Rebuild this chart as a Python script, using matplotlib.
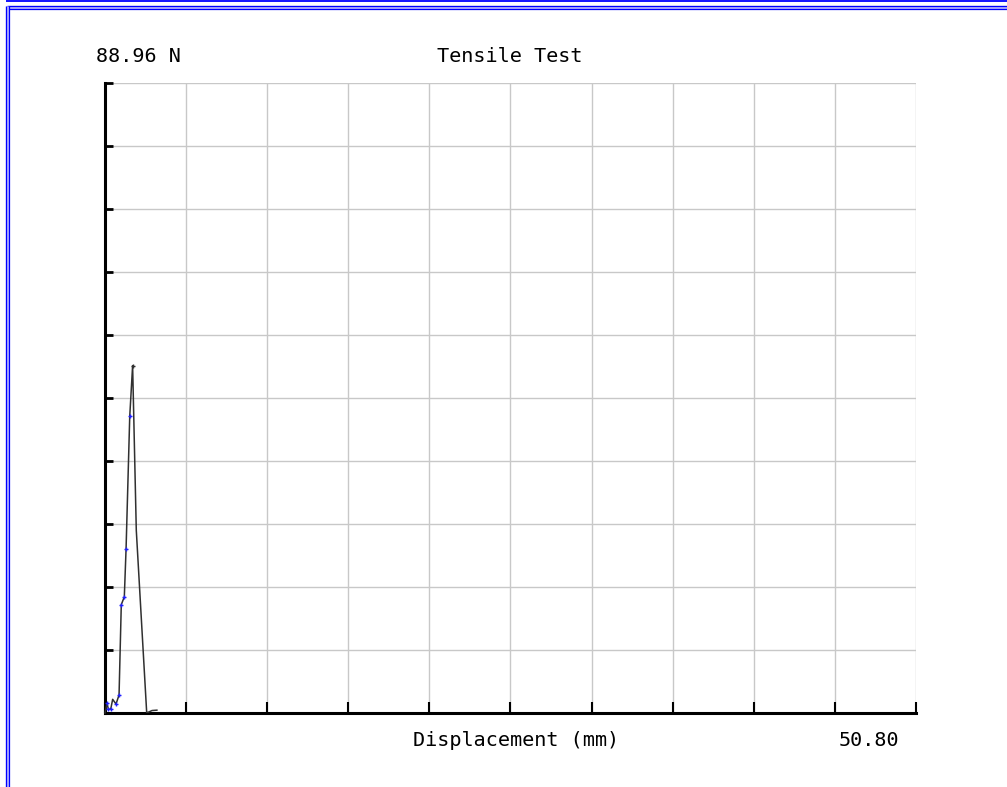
import numpy as np
import matplotlib.pyplot as plt
from matplotlib.lines import Line2D

# -------------------------------------------------------------------
# Data (displacement in mm, force in N)
# -------------------------------------------------------------------
x_max = 50.80
y_max = 88.96

disp = [0.00, 0.13, 0.21, 0.36, 0.48, 0.69, 0.88, 1.02, 1.21, 1.32, 1.55, 1.73,
        1.96, 2.61, 2.70, 2.95, 3.25]
force = [0.0, 1.37, 0.52, 0.56, 1.93, 1.27, 2.54, 15.3, 16.4, 23.2, 41.9, 49.05,
         25.8, 0.1, 0.1, 0.35, 0.40]
# points that carry a blue sample marker
marked = [1, 2, 3, 5, 6, 7, 8, 9, 10]

W, H = 1007, 787
fig = plt.figure(figsize=(W / 100, H / 100), dpi=100)
fig.patch.set_facecolor('white')

# axes box in pixels: left 105, right 916, top 83, bottom 713
ax = fig.add_axes([105 / W, (H - 713) / H, 811 / W, 630 / H])
ax.set_xlim(0, x_max)
ax.set_ylim(0, y_max)

ax.set_xticks(np.linspace(0, x_max, 11))
ax.set_yticks(np.linspace(0, y_max, 11))
ax.grid(True, color='#c8c8c8', linewidth=1.0)
ax.set_axisbelow(True)
ax.tick_params(axis='x', direction='in', length=8, width=1.5, color='black',
               labelbottom=False)
ax.tick_params(axis='y', direction='in', length=6, width=2, color='black',
               labelleft=False)

for s in ('top', 'right'):
    ax.spines[s].set_visible(False)
ax.spines['left'].set_linewidth(2.2)
ax.spines['bottom'].set_linewidth(2.2)

# curve
ax.plot(disp, force, color='#303030', linewidth=1.1, clip_on=False, zorder=3)
ax.plot([disp[i] for i in marked], [force[i] for i in marked], linestyle='none',
        marker='+', markersize=3, markeredgewidth=1, color='#2020ff', zorder=4,
        clip_on=False)
ax.plot([disp[11]], [force[11]], linestyle='none', marker='+', markersize=3,
        markeredgewidth=1, color='#303030', zorder=4)

# texts
mono = 'DejaVu Sans Mono'
fs = 14.5
fig.text(96 / W, 1 - 57 / H, f'{y_max:.2f} N', fontsize=fs, family=mono,
         ha='left', va='center')
fig.text(510 / W, 1 - 57 / H, 'Tensile Test', fontsize=fs, family=mono,
         ha='center', va='center')
fig.text(516 / W, 1 - 740 / H, 'Displacement (mm)', fontsize=fs, family=mono,
         ha='center', va='center')
fig.text(869 / W, 1 - 740 / H, f'{x_max:.2f}', fontsize=fs, family=mono,
         ha='center', va='center')

# window-style blue frame
def px_line(xs, ys, color, lw):
    fig.add_artist(Line2D([x / W for x in xs], [1 - y / H for y in ys],
                          transform=fig.transFigure, color=color, linewidth=lw,
                          solid_capstyle='butt'))

px_line([6, W], [0.7, 0.7], '#0000ff', 1.3)
px_line([7, W], [7.3, 7.3], '#b4b4ff', 2.4)
px_line([7, W], [6, 6], '#0000ff', 0.9)
px_line([7, W], [8.7, 8.7], '#0000ff', 0.9)
px_line([7.3, 7.3], [6, H], '#b4b4ff', 2.4)
px_line([6.3, 6.3], [6, H], '#0000ff', 0.9)
px_line([8.7, 8.7], [6, H], '#0000ff', 0.9)

fig.savefig('out.png', dpi=100)
